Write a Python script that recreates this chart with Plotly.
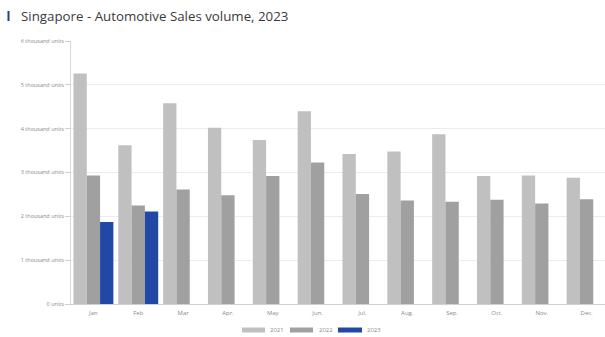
import plotly.graph_objects as go

months = ["Jan", "Feb", "Mar", "Apr.", "May", "Jun.", "Jul.", "Aug.", "Sep.", "Oct.", "Nov.", "Dec."]
sales_2021 = [5.26, 3.62, 4.58, 4.02, 3.74, 4.40, 3.42, 3.48, 3.87, 2.92, 2.93, 2.88]
sales_2022 = [2.93, 2.25, 2.61, 2.48, 2.92, 3.23, 2.51, 2.36, 2.33, 2.38, 2.29, 2.39]
sales_2023 = [1.87, 2.11]
series_names = ["2021", "2022", "2023"]
series_colors = ["#c0c0c0", "#a0a0a0", "#2248a6"]
y_tickvals = [0, 1, 2, 3, 4, 5, 6]
y_ticktext = ["0 units", "1 thousand units", "2 thousand units", "3 thousand units",
              "4 thousand units", "5 thousand units", "6 thousand units"]
title_text = "Singapore - Automotive Sales volume, 2023"

W, H = 605, 337
L, R, T, B = 71, 0, 41, 33

fig = go.Figure()
for name, vals, col in zip(series_names, [sales_2021, sales_2022, sales_2023], series_colors):
    fig.add_trace(go.Bar(x=months[:len(vals)], y=vals, name=name, marker_color=col,
                         marker_line_width=0, showlegend=False))

def px_x(p):
    return (p - L) / (W - L - R)

def px_y(p):
    return (H - B - p) / (H - T - B)

shapes = []
annotations = []
# legend (custom swatches)
leg = [(242, 265, 268), (290, 313, 317), (338, 362, 365)]
for (x0, x1, tx), name, col in zip(leg, series_names, series_colors):
    shapes.append(dict(type="rect", xref="paper", yref="paper",
                       x0=px_x(x0), x1=px_x(x1), y0=px_y(332.5), y1=px_y(327.5),
                       fillcolor=col, line_width=0, layer="above"))
    annotations.append(dict(text=name, xref="paper", yref="paper", x=px_x(tx), y=px_y(330),
                            xanchor="left", yanchor="middle", showarrow=False,
                            font=dict(size=6, color="#8a8a8a", family="Open Sans")))
# title marker
shapes.append(dict(type="rect", xref="paper", yref="paper",
                   x0=px_x(7.5), x1=px_x(9.5), y0=px_y(21), y1=px_y(11),
                   fillcolor="#1f3f8f", line_width=0))
annotations.append(dict(text=title_text, xref="paper", yref="paper", x=px_x(18.5), y=px_y(16),
                        xanchor="left", yanchor="middle", showarrow=False,
                        font=dict(size=13.3, color="#3a3a3a", family="Open Sans")))

fig.update_layout(
    width=W, height=H,
    margin=dict(l=L, r=R, t=T, b=B),
    plot_bgcolor="white", paper_bgcolor="white",
    barmode="group", bargap=0.11, bargroupgap=0,
    shapes=shapes, annotations=annotations,
    xaxis=dict(range=[-0.5, 11.41], showgrid=False, showline=True, linecolor="#d0d0d0",
               linewidth=1, ticks="outside", ticklen=3, tickcolor="rgba(0,0,0,0)",
               tickfont=dict(size=6, color="#8a8a8a", family="Open Sans"),
               fixedrange=True),
    yaxis=dict(range=[0, 6], tickvals=y_tickvals, ticktext=y_ticktext,
               showgrid=True, gridcolor="#ececec", gridwidth=1,
               showline=True, linecolor="#d8d8d8", linewidth=1,
               ticks="outside", ticklen=5, tickcolor="#d0d0d0",
               tickfont=dict(size=5.5, color="#8a8a8a", family="Open Sans"),
               zeroline=False, fixedrange=True),
)

fig.write_html("out.html")
